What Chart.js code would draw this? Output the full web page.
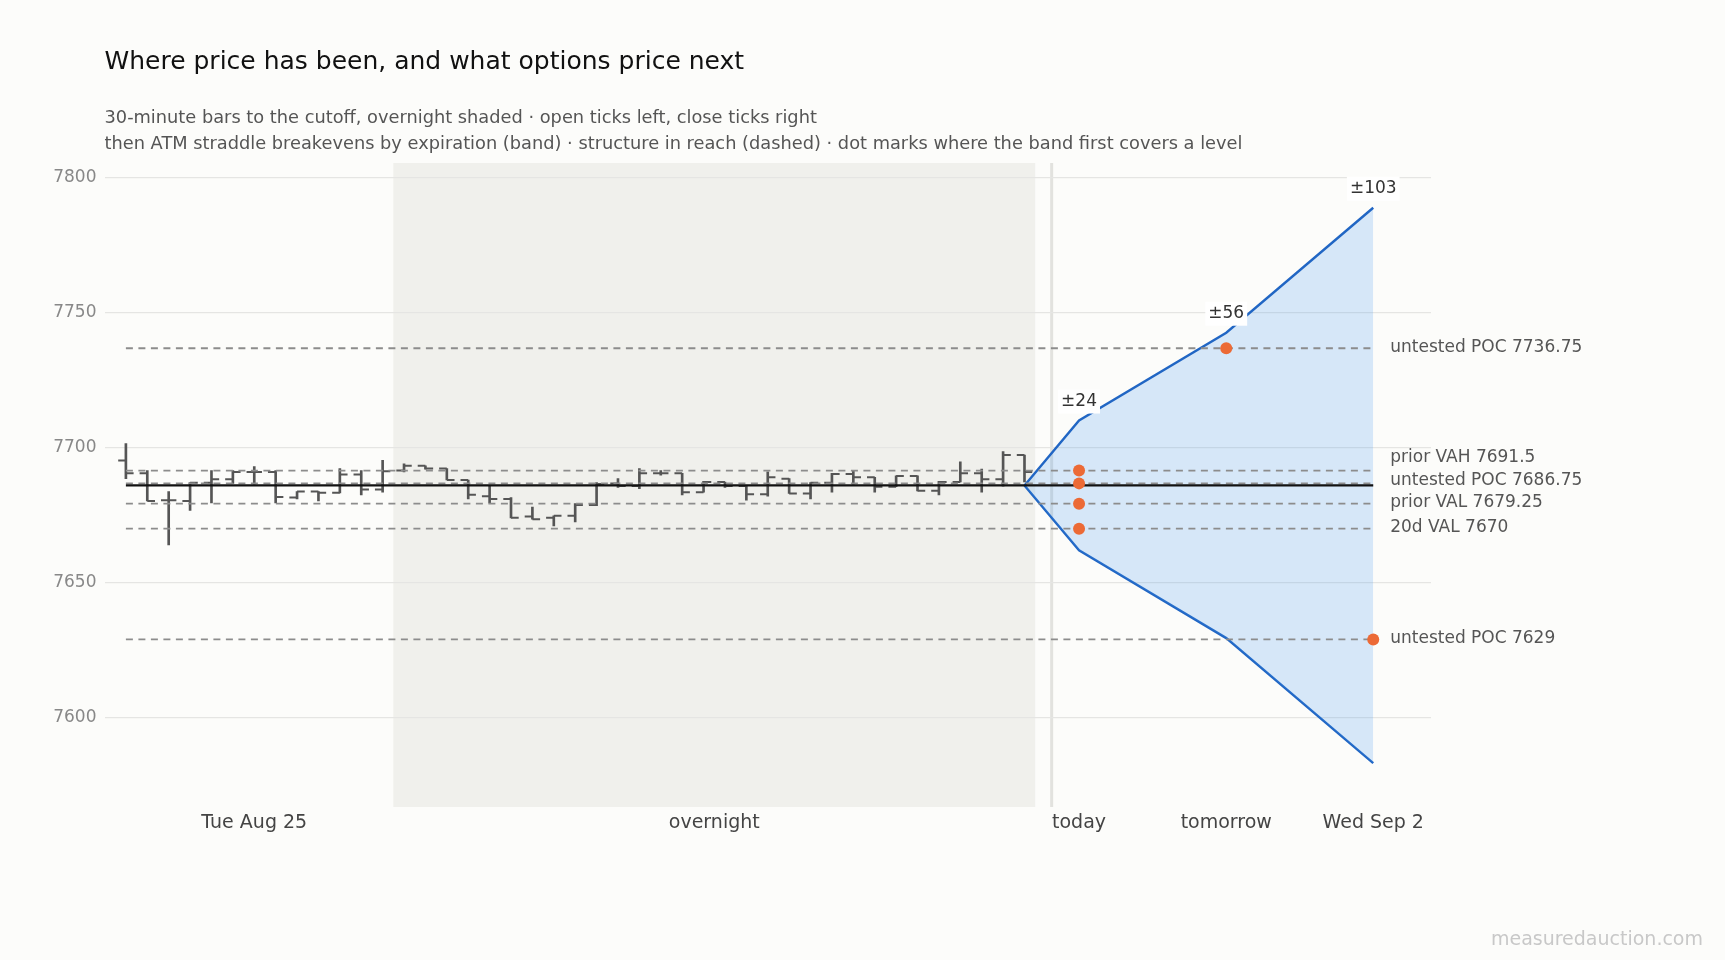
<!DOCTYPE html>
<html>
<head>
<meta charset="utf-8">
<title>Where price has been, and what options price next</title>
<script src="https://cdn.jsdelivr.net/npm/chart.js@4.4.1/dist/chart.umd.min.js"></script>
<style>
  html, body { margin: 0; padding: 0; background: #fcfcfa; }
  #wrap { width: 1725px; height: 960px; }
</style>
</head>
<body>
<div id="wrap"><canvas id="priceChart" width="1725" height="960"></canvas></div>
<script>
// 30-minute bars up to the cutoff (index 0 = first bar of Tue Aug 25)
const barOpen = [7695.25, 7690.5, 7680.5, 7680.25, 7687, 7688.25, 7691, 7691, 7681.5, 7683.75,
  7683.25, 7690, 7684.5, 7691.5, 7693.25, 7692.25, 7688, 7682, 7681, 7674.5,
  7674, 7674.75, 7678.75, 7686.75, 7685.75, 7690.5, 7690.5, 7683.5, 7687.25, 7685.75,
  7682.75, 7688.5, 7683, 7687, 7690.25, 7689, 7685.5, 7689.5, 7684, 7687.25,
  7690.5, 7688.25, 7697.25];
const barHigh = [7701.5, 7691.5, 7683.75, 7687, 7691.5, 7691.5, 7693, 7691.5, 7683.75, 7683.75,
  7692.25, 7691.5, 7695.25, 7694, 7693.25, 7692.25, 7688, 7685.75, 7681.5, 7678,
  7674.75, 7679.25, 7687, 7688.5, 7692.25, 7691.5, 7690.5, 7687.5, 7687.25, 7686,
  7691, 7688.5, 7687, 7690.5, 7691.5, 7689, 7689.5, 7689.5, 7687.5, 7694.75,
  7692, 7698.5, 7697.25];
const barLow = [7688.5, 7680.25, 7664, 7676.75, 7679.5, 7686.75, 7686.5, 7679.5, 7681, 7680.25,
  7683.25, 7682.5, 7683.5, 7691, 7692, 7688, 7681, 7679.5, 7674, 7673.5,
  7671, 7672.5, 7678.5, 7685.25, 7684.75, 7689.75, 7682.5, 7683.5, 7685.25, 7680.5,
  7682, 7683, 7681, 7683.5, 7686.5, 7683.5, 7685.5, 7684, 7682.5, 7687.25,
  7683.5, 7685.75, 7687.25];
const barClose = [7690.5, 7680.25, 7680.5, 7687, 7688.25, 7691, 7691, 7681.75, 7683.75, 7683.25,
  7690, 7684.5, 7691.25, 7693.25, 7692.25, 7688, 7682.5, 7681, 7674, 7673.5,
  7674.75, 7678.75, 7686.5, 7685.75, 7690.5, 7690.5, 7683.5, 7687.25, 7685.75, 7682.75,
  7689, 7683, 7687, 7690.25, 7689, 7685.5, 7689.5, 7684, 7687.25, 7690.5,
  7688.25, 7697.25, 7691];

// overnight session and cutoff, in bar-index units
const overnightStart = 12.5;
const overnightEnd = 42.5;
const cutoffX = 43.27;

// ATM straddle breakevens by expiration
const spot = 7686;
const expiryNames = ['today', 'tomorrow', 'Wed Sep 2'];
const expiryX = [44.55, 51.43, 58.3];
const straddleMoves = [24, 56.5, 102.75];
const straddleLabels = ['±24', '±56', '±103'];

// structure levels
const levelNames = ['untested POC', 'prior VAH', 'untested POC', 'prior VAL', '20d VAL', 'untested POC'];
const levelPrices = [7736.75, 7691.5, 7686.75, 7679.25, 7670, 7629];

const xTickPos = [6, 27.5, ...expiryX];
const xTickLabels = ['Tue Aug 25', 'overnight', ...expiryNames];
const yTicks = [7600, 7650, 7700, 7750, 7800];

const FONT = 'DejaVu Sans';
const lastIdx = barClose.length - 1;
const tickLen = 0.36;

const hlBars = barHigh.map((h, i) => ({ x: i, y: [barLow[i], h] }));
const openTicks = [];
const closeTicks = [];
barOpen.forEach((o, i) => {
  openTicks.push({ x: i - tickLen, y: o }, { x: i, y: o }, { x: i, y: null });
  closeTicks.push({ x: i, y: barClose[i] }, { x: i + tickLen, y: barClose[i] }, { x: i + tickLen, y: null });
});

const bandX = [lastIdx, ...expiryX];
const bandUpper = bandX.map((x, k) => ({ x, y: k === 0 ? spot : spot + straddleMoves[k - 1] }));
const bandLower = bandX.map((x, k) => ({ x, y: k === 0 ? spot : spot - straddleMoves[k - 1] }));

// dot where the band first covers each level
const firstCover = levelPrices.map(p => straddleMoves.findIndex(m => Math.abs(p - spot) <= m));
const coverDots = levelPrices.map((p, i) => ({ x: expiryX[firstCover[i]], y: p }));

const wedX = expiryX[expiryX.length - 1];
const levelSets = levelPrices.map(p => ({
  type: 'line',
  data: [{ x: 0, y: p }, { x: wedX, y: p }],
  borderColor: '#8c8c8c',
  borderWidth: 1.8,
  borderDash: [7, 5.5],
  pointRadius: 0,
  fill: false,
  order: 2
}));

const annotations = {
  id: 'annotations',
  beforeDraw(chart) {
    const { ctx, chartArea, scales: { x } } = chart;
    ctx.save();
    ctx.fillStyle = '#fcfcfa';
    ctx.fillRect(0, 0, chart.width, chart.height);
    const x0 = x.getPixelForValue(overnightStart);
    const x1 = x.getPixelForValue(overnightEnd);
    ctx.fillStyle = '#f0f0ec';
    ctx.fillRect(x0, chartArea.top, x1 - x0, chartArea.bottom - chartArea.top);
    const xc = x.getPixelForValue(cutoffX);
    ctx.strokeStyle = '#e2e2de';
    ctx.lineWidth = 3;
    ctx.beginPath();
    ctx.moveTo(xc, chartArea.top);
    ctx.lineTo(xc, chartArea.bottom);
    ctx.stroke();
    ctx.restore();
  },
  afterDatasetsDraw(chart) {
    const { ctx, scales: { x, y } } = chart;
    ctx.save();
    ctx.font = '17px "' + FONT + '"';
    ctx.textBaseline = 'middle';

    // level labels, pushed apart from the bottom up
    const items = levelPrices.map((p, i) => ({ text: levelNames[i] + ' ' + p, py: y.getPixelForValue(p) }));
    items.sort((a, b) => b.py - a.py);
    const gap = 22.5;
    let prev = Infinity;
    items.forEach(it => {
      it.ly = Math.min(it.py, prev - gap);
      prev = it.ly;
    });
    const lx = x.getPixelForValue(wedX) + 17;
    ctx.fillStyle = '#555';
    ctx.textAlign = 'left';
    items.forEach(it => ctx.fillText(it.text, lx, it.ly - 1));

    // straddle labels above the upper breakeven
    ctx.textAlign = 'center';
    expiryX.forEach((ex, k) => {
      const px = x.getPixelForValue(ex);
      const py = y.getPixelForValue(spot + straddleMoves[k]) - 19;
      const w = ctx.measureText(straddleLabels[k]).width;
      ctx.fillStyle = '#ffffff';
      ctx.fillRect(px - w / 2 - 3, py - 12, w + 6, 24);
      ctx.fillStyle = '#333';
      ctx.fillText(straddleLabels[k], px, py);
    });
    ctx.restore();
  },
  afterDraw(chart) {
    const { ctx } = chart;
    ctx.save();
    ctx.font = '19px "' + FONT + '"';
    ctx.fillStyle = '#c8c8c8';
    ctx.textAlign = 'right';
    ctx.textBaseline = 'middle';
    ctx.fillText('measuredauction.com', 1703, 940);
    ctx.restore();
  }
};

new Chart(document.getElementById('priceChart').getContext('2d'), {
  type: 'line',
  data: {
    datasets: [
      {
        type: 'scatter',
        data: coverDots,
        backgroundColor: '#ec6a36',
        borderWidth: 0,
        pointRadius: 6,
        order: 0
      },
      {
        type: 'line',
        data: [{ x: 0, y: spot }, { x: wedX, y: spot }],
        borderColor: '#111111',
        borderWidth: 2.2,
        pointRadius: 0,
        fill: false,
        order: 1
      },
      ...levelSets,
      {
        type: 'line',
        data: bandUpper,
        borderColor: '#2166c4',
        borderWidth: 2.4,
        backgroundColor: 'rgba(66, 150, 240, 0.2)',
        pointRadius: 0,
        fill: '+1',
        order: 3
      },
      {
        type: 'line',
        data: bandLower,
        borderColor: '#2166c4',
        borderWidth: 2.4,
        pointRadius: 0,
        fill: false,
        order: 3
      },
      {
        type: 'line',
        data: openTicks,
        borderColor: '#555555',
        borderWidth: 2,
        pointRadius: 0,
        spanGaps: false,
        fill: false,
        order: 4
      },
      {
        type: 'line',
        data: closeTicks,
        borderColor: '#555555',
        borderWidth: 2,
        pointRadius: 0,
        spanGaps: false,
        fill: false,
        order: 4
      },
      {
        type: 'bar',
        data: hlBars,
        backgroundColor: '#555555',
        borderWidth: 0,
        barThickness: 2,
        order: 5
      }
    ]
  },
  options: {
    responsive: false,
    devicePixelRatio: 1,
    animation: false,
    layout: { padding: { left: 0, right: 294, top: 0, bottom: 113 } },
    scales: {
      x: {
        type: 'linear',
        min: -1,
        max: 61,
        offset: false,
        grid: { display: false },
        border: { display: false },
        afterBuildTicks: scale => { scale.ticks = xTickPos.map(value => ({ value })); },
        afterFit: scale => { scale.height = 40; },
        ticks: {
          autoSkip: false,
          maxRotation: 0,
          padding: -3,
          color: '#444',
          font: { family: FONT, size: 19 },
          callback: (value, index) => xTickLabels[index]
        }
      },
      y: {
        type: 'linear',
        min: 7567,
        max: 7805.3,
        beginAtZero: false,
        grid: { color: '#e5e5e3', lineWidth: 1.3, drawTicks: false },
        border: { display: false },
        afterBuildTicks: scale => { scale.ticks = yTicks.map(value => ({ value })); },
        afterFit: scale => { scale.width = 104.5; },
        ticks: {
          padding: 8,
          color: '#888',
          font: { family: FONT, size: 17 },
          callback: value => String(value)
        }
      }
    },
    plugins: {
      legend: { display: false },
      tooltip: { enabled: false },
      title: {
        display: true,
        text: 'Where price has been, and what options price next',
        align: 'start',
        fullSize: false,
        color: '#111',
        font: { family: FONT, size: 25, weight: 'normal' },
        padding: { top: 47, bottom: 0 }
      },
      subtitle: {
        display: true,
        text: [
          '30-minute bars to the cutoff, overnight shaded · open ticks left, close ticks right',
          'then ATM straddle breakevens by expiration (band) · structure in reach (dashed) · dot marks where the band first covers a level'
        ],
        align: 'start',
        fullSize: false,
        color: '#555',
        font: { family: FONT, size: 17.8, lineHeight: 26 / 17.8 },
        padding: { top: 28.5, bottom: 5.5 }
      }
    }
  },
  plugins: [annotations]
});
</script>
</body>
</html>
